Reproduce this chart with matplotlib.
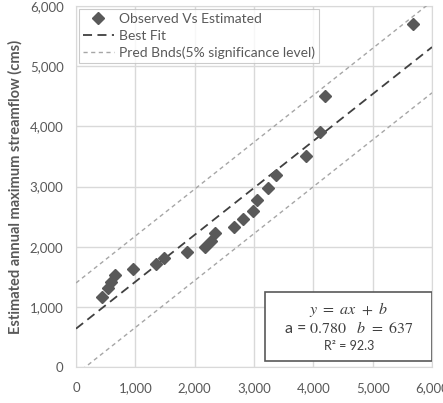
import numpy as np
import matplotlib
matplotlib.use("Agg")
from matplotlib import pyplot as plt
from matplotlib.ticker import FuncFormatter
from matplotlib.patches import Rectangle

# observed vs estimated annual maximum streamflow (cms)
observed = [432, 543, 583, 655, 953, 1356, 1479, 1877, 2180, 2281, 2336,
            2655, 2812, 2980, 3042, 3244, 3373, 3877, 4118, 4202, 5686]
estimated = [1168, 1307, 1417, 1528, 1623, 1706, 1805, 1905, 1998, 2098, 2220,
             2330, 2458, 2596, 2782, 2973, 3198, 3505, 3899, 4510, 5698]
slope = 0.780
intercept = 637
band = 760  # half width of prediction band
r2 = 92.3

plt.rcParams['font.family'] = ['Lato', 'DejaVu Sans']
grey_txt = '#595959'

fig = plt.figure(figsize=(4.43, 4.03), dpi=100)
ax = fig.add_axes([0.1716, 0.0893, 0.8036, 0.8958])

xl = np.array([0, 6000])
ax.plot(observed, estimated, 'D', color='#595959', ms=6.3, mec='#595959',
        label='Observed Vs Estimated', zorder=5)
ax.plot(xl, slope*xl + intercept, color='#404040', lw=1.3, dashes=(5, 3),
        label='Best Fit', zorder=4)
ax.plot(xl, slope*xl + intercept + band, color='#a6a6a6', lw=1, dashes=(3, 2.5),
        label='Pred Bnds(5% significance level)', zorder=3)
ax.plot(xl, slope*xl + intercept - band, color='#a6a6a6', lw=1, dashes=(3, 2.5),
        zorder=3)

ax.set_xlim(0, 6000)
ax.set_ylim(0, 6000)
ax.set_xticks(np.arange(0, 6001, 1000))
ax.set_yticks(np.arange(0, 6001, 1000))
fmt = FuncFormatter(lambda v, p: f'{int(v):,}')
ax.xaxis.set_major_formatter(fmt)
ax.yaxis.set_major_formatter(fmt)
ax.grid(True, color='#d9d9d9', lw=1)
ax.set_axisbelow(True)
for s in ax.spines.values():
    s.set_color('#d9d9d9')
ax.tick_params(length=0, labelsize=9.5, colors=grey_txt)
ax.tick_params(axis='x', pad=11)
ax.tick_params(axis='y', pad=9)
ax.set_ylabel('Estimated annual maximum streamflow (cms)', fontsize=10.5,
              fontweight='bold', color=grey_txt, labelpad=5)

leg = ax.legend(loc='upper left', fontsize=10, frameon=True, fancybox=False,
                borderpad=0.3, labelspacing=0.35, handlelength=2.2,
                handletextpad=0.4, borderaxespad=0.2, edgecolor='#bfbfbf')
leg.get_frame().set_linewidth(0.8)
for t in leg.get_texts():
    t.set_color(grey_txt)

# equation box
box = Rectangle((0.532, 0.017), 0.468, 0.19, transform=ax.transAxes,
                facecolor='white', edgecolor='#595959', lw=1.2, zorder=6)
ax.add_patch(box)
ax.text(0.766, 0.158, r'$y\ =\ ax\ +\ b$', transform=ax.transAxes, ha='center',
        va='center', fontsize=11.5, color='#404040', math_fontfamily='stix',
        zorder=7)
ax.text(0.766, 0.108, 'a = ' + rf'$\mathrm{{{slope:.3f}}}\ \ \ b\ =\ \mathrm{{{intercept}}}$',
        transform=ax.transAxes, ha='center', va='center', fontsize=11.5,
        color='#404040', math_fontfamily='stix', zorder=7)
ax.text(0.766, 0.058, f'R² = {r2}', transform=ax.transAxes, ha='center',
        va='center', fontsize=9, color='#404040', zorder=7)

fig.savefig('out.png', dpi=100)
